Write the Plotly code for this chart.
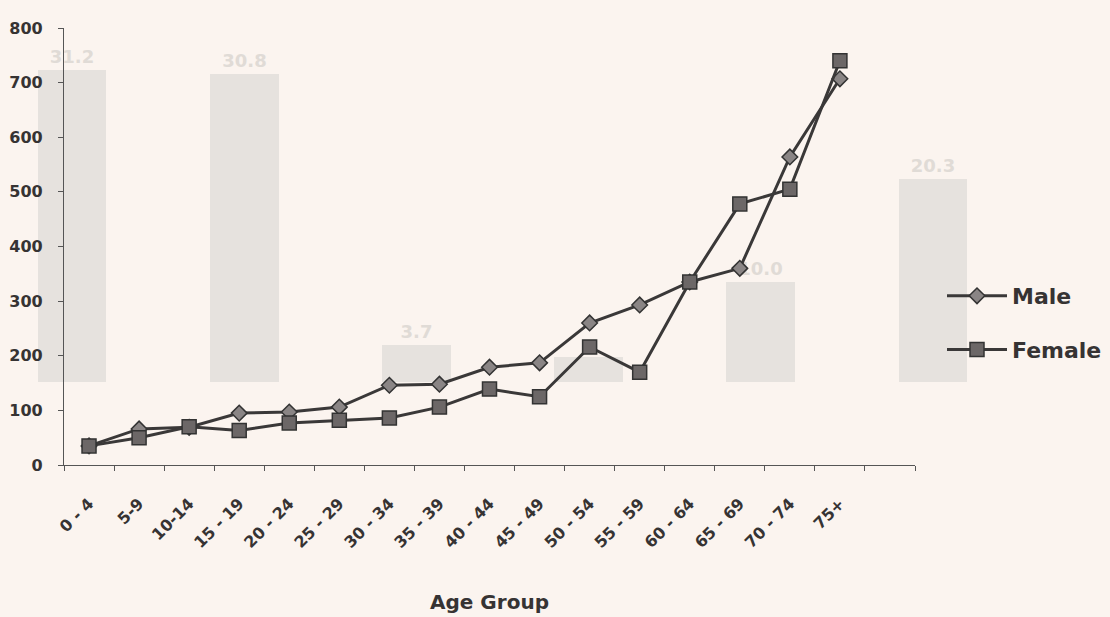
import plotly.graph_objects as go

# ---- data ----
age_groups = ["0 - 4", "5-9", "10-14", "15 - 19", "20 - 24", "25 - 29", "30 - 34", "35 - 39",
              "40 - 44", "45 - 49", "50 - 54", "55 - 59", "60 - 64", "65 - 69", "70 - 74", "75+"]
male = [35, 66, 69, 95, 97, 106, 146, 148, 179, 187, 260, 293, 335, 360, 564, 707]
female = [35, 50, 70, 63, 77, 82, 86, 106, 139, 125, 216, 170, 335, 478, 505, 740]

# faint show-through bars from the reverse side of the scanned page
ghost_values = [31.2, 30.8, 3.7, 2.5, 10.0, 20.3]
ghost_labels = ["31.2", "30.8", "3.7", "", "10.0", "20.3"]

W, H = 1110, 617
BG = "#fbf4ef"
INK = "#363333"
FONT = "'DejaVu Sans', Verdana, sans-serif"

fig = go.Figure()

# ghost bars (subplot x/y, drawn first, behind the lines)
fig.add_trace(go.Bar(
    x=list(range(len(ghost_values))), y=ghost_values,
    width=0.4, marker=dict(color="#e6e2de", line=dict(width=0)),
    text=ghost_labels, textposition="outside",
    textfont=dict(color="#e0dbd6", size=18, family=FONT, weight="bold"),
    cliponaxis=False, showlegend=False, hoverinfo="skip",
    xaxis="x", yaxis="y"))

xi = list(range(len(age_groups)))
fig.add_trace(go.Scatter(
    x=xi, y=male, name="Male", mode="lines+markers",
    line=dict(color="#3a3838", width=3),
    marker=dict(symbol="diamond", size=12, color="#8a8585",
                line=dict(color="#333", width=1.5)),
    xaxis="x2", yaxis="y2", legendgroup="m"))
fig.add_trace(go.Scatter(
    x=xi, y=female, name="Female", mode="lines+markers",
    line=dict(color="#3a3838", width=3),
    marker=dict(symbol="square", size=14, color="#6c6767",
                line=dict(color="#333", width=1.5)),
    xaxis="x2", yaxis="y2", legendgroup="f"))

bar_px = 172.2
fig.update_layout(
    template="none",
    width=W, height=H,
    margin=dict(l=0, r=0, t=0, b=0, autoexpand=False),
    paper_bgcolor=BG, plot_bgcolor="rgba(0,0,0,0)",
    font=dict(family=FONT, color=INK),
    bargap=0,
    xaxis=dict(domain=[0, 1], range=[-72 / bar_px, (W - 72) / bar_px],
               visible=False, fixedrange=True, automargin=False),
    yaxis=dict(domain=[0, 1], range=[-(H - 382) / 10, 382 / 10],
               visible=False, fixedrange=True, automargin=False),
    xaxis2=dict(domain=[64 / W, 915 / W], anchor="y2", automargin=False,
                range=[-0.5, 16.5],
                tickmode="array", tickvals=xi, ticktext=age_groups,
                tickangle=-45, ticks="", ticklabelstandoff=22,
                tickfont=dict(size=16, color=INK, family=FONT, weight="bold"),
                showline=True, linecolor="#555", linewidth=1.2,
                showgrid=False, zeroline=False,
                minor=dict(tickmode="linear", tick0=-0.5, dtick=1,
                           ticks="outside", ticklen=5, tickcolor="#555",
                           showgrid=False),
                title=dict(text="Age Group",
                           font=dict(size=20, color=INK, family=FONT, weight="bold"),
                           standoff=44)),
    yaxis2=dict(domain=[(H - 465) / H, (H - 28) / H], anchor="x2", automargin=False,
                range=[0, 800], dtick=100,
                ticks="outside", ticklen=5, tickcolor="#555", ticklabelstandoff=12,
                tickfont=dict(size=16, color=INK, family=FONT, weight="bold"),
                showline=True, linecolor="#555", linewidth=1.2,
                showgrid=False, zeroline=False),
    legend=dict(x=942 / W, y=(H - 323) / H, xanchor="left", yanchor="middle",
                bgcolor="rgba(0,0,0,0)",
                font=dict(size=22, color=INK, family=FONT, weight="bold"),
                tracegroupgap=22, itemwidth=60),
)

fig.write_html(
    "out.html",
    config={"displayModeBar": False},
    post_script="document.body.style.margin='0';document.body.style.background='%s';" % BG,
)
